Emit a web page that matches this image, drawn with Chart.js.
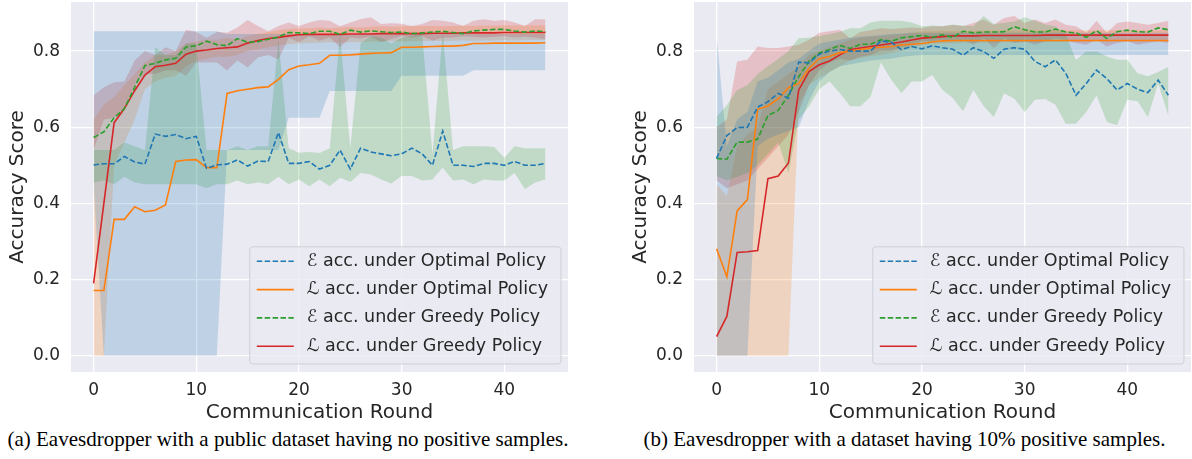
<!DOCTYPE html>
<html>
<head>
<meta charset="utf-8">
<script src="https://cdn.jsdelivr.net/npm/chart.js@4.4.1/dist/chart.umd.min.js"></script>
<style>
body{margin:0;background:#fff;width:1192px;height:459px;position:relative;overflow:hidden}
.panel{position:absolute;top:0}
.cap{position:absolute;top:427px;font:21px "Liberation Serif",serif;color:#000;text-align:center;white-space:nowrap}
</style>
</head>
<body>
<div class="panel" style="left:0"><canvas id="chartA" width="580" height="425"></canvas></div>
<div class="panel" style="left:623px"><canvas id="chartB" width="569" height="425"></canvas></div>
<div class="cap" style="left:0;width:576px">(a) Eavesdropper with a public dataset having no positive samples.</div>
<div class="cap" style="left:623px;width:563px">(b) Eavesdropper with a dataset having 10% positive samples.</div>
<script>
// communication rounds 0..44
var rounds = [];
for (var i = 0; i <= 44; i++) rounds.push(i);

var labels = ["\u2130 acc. under Optimal Policy", "\u2112 acc. under Optimal Policy",
              "\u2130 acc. under Greedy Policy", "\u2112 acc. under Greedy Policy"];
var yTicks = [0, 0.2, 0.4, 0.6, 0.8];
var xTicks = [0, 10, 20, 30, 40];

// ---- (a) no positive samples ----
var aEOpt = [0.501,0.504,0.504,0.523,0.509,0.503,0.582,0.576,0.581,0.570,0.576,0.492,0.501,0.503,0.514,0.498,0.511,0.510,0.586,0.505,
  0.505,0.510,0.490,0.500,0.540,0.490,0.545,0.535,0.530,0.525,0.530,0.545,0.530,0.500,0.590,0.500,0.500,0.497,0.505,0.505,0.500,0.510,0.500,0.500,0.505];
var aLOpt = [0.171,0.171,0.358,0.358,0.391,0.378,0.382,0.396,0.510,0.514,0.515,0.494,0.494,0.689,0.696,0.700,0.704,0.706,0.726,0.751,
  0.761,0.764,0.768,0.789,0.789,0.790,0.792,0.794,0.795,0.796,0.810,0.810,0.811,0.812,0.813,0.813,0.815,0.820,0.820,0.821,0.821,0.821,0.821,0.821,0.822];
var aEGreedy = [0.573,0.588,0.625,0.649,0.705,0.762,0.768,0.777,0.781,0.811,0.814,0.826,0.817,0.814,0.833,0.823,0.825,0.831,0.837,0.849,
  0.848,0.846,0.852,0.852,0.844,0.855,0.850,0.853,0.851,0.849,0.850,0.846,0.848,0.850,0.852,0.849,0.846,0.853,0.855,0.857,0.857,0.853,0.850,0.853,0.851];
var aLGreedy = [0.190,0.400,0.612,0.649,0.696,0.737,0.759,0.763,0.768,0.792,0.800,0.803,0.807,0.809,0.811,0.821,0.828,0.833,0.836,0.840,
  0.843,0.844,0.844,0.844,0.844,0.845,0.845,0.845,0.846,0.846,0.846,0.846,0.846,0.847,0.847,0.847,0.848,0.848,0.848,0.848,0.849,0.849,0.849,0.849,0.849];
// spread bands (lower / upper), coloured as in the original figure
var aBlueLo = [0.45,0,0,0,0,0,0,0,0,0,0,0,0,0.54,0.54,0.54,0.54,0.54,0.54,0.625,
  0.625,0.625,0.625,0.695,0.695,0.695,0.695,0.695,0.695,0.695,0.735,0.735,0.735,0.735,0.735,0.735,0.735,0.75,0.75,0.75,0.75,0.75,0.75,0.75,0.75];
var aBlueHi = [0.852,0.852,0.852,0.852,0.852,0.852,0.852,0.852,0.852,0.852,0.852,0.852,0.852,0.845,0.845,0.845,0.845,0.845,0.845,0.845,
  0.845,0.845,0.845,0.845,0.845,0.845,0.845,0.845,0.845,0.845,0.845,0.845,0.845,0.845,0.845,0.845,0.845,0.845,0.845,0.845,0.845,0.845,0.845,0.845,0.845];
var aGreenLo = [0.455,0.46,0.45,0.47,0.455,0.45,0.45,0.45,0.45,0.45,0.45,0.44,0.45,0.45,0.46,0.45,0.455,0.45,0.47,0.45,
  0.463,0.445,0.463,0.445,0.467,0.456,0.48,0.476,0.463,0.452,0.472,0.472,0.46,0.463,0.494,0.46,0.463,0.45,0.463,0.46,0.46,0.48,0.437,0.455,0.463];
var aGreenHi = [0.54,0.54,0.54,0.56,0.55,0.54,0.81,0.79,0.79,0.82,0.82,0.54,0.54,0.54,0.55,0.54,0.55,0.55,0.83,0.545,
  0.533,0.535,0.532,0.545,0.845,0.545,0.82,0.84,0.835,0.82,0.835,0.84,0.845,0.53,0.85,0.54,0.55,0.55,0.55,0.548,0.52,0.55,0.545,0.545,0.545];
var aRedLo = [0.54,0.62,0.625,0.65,0.71,0.74,0.74,0.75,0.75,0.735,0.77,0.77,0.77,0.749,0.775,0.757,0.783,0.79,0.778,0.835,
  0.823,0.839,0.827,0.836,0.81,0.836,0.833,0.839,0.823,0.832,0.84,0.836,0.84,0.827,0.836,0.836,0.839,0.838,0.836,0.838,0.84,0.836,0.838,0.836,0.832];
var aRedHi = [0.684,0.705,0.718,0.72,0.775,0.80,0.79,0.81,0.80,0.856,0.85,0.835,0.85,0.848,0.862,0.882,0.866,0.852,0.866,0.875,
  0.866,0.875,0.882,0.88,0.865,0.875,0.884,0.889,0.871,0.873,0.872,0.866,0.871,0.882,0.88,0.875,0.866,0.88,0.884,0.88,0.882,0.875,0.866,0.884,0.884];
var aOrangeLo = [0,0,0.50,0.56,0.62,0.70,0.72,0.73,0.735,0.76,0.775,0.78,0.785,0.785,0.79,0.80,0.805,0.81,0.815,0.818,
  0.82,0.822,0.822,0.823,0.822,0.824,0.823,0.825,0.825,0.826,0.825,0.826,0.826,0.827,0.826,0.827,0.828,0.827,0.828,0.828,0.829,0.828,0.829,0.829,0.829];
var aOrangeHi = [0.62,0.66,0.68,0.71,0.74,0.77,0.79,0.79,0.80,0.82,0.825,0.83,0.83,0.835,0.83,0.84,0.845,0.85,0.855,0.858,
  0.86,0.86,0.862,0.86,0.862,0.863,0.862,0.864,0.865,0.864,0.865,0.865,0.866,0.866,0.865,0.866,0.867,0.866,0.867,0.867,0.868,0.867,0.868,0.868,0.868];

// ---- (b) 10% positive samples ----
var bEOpt = [0.518,0.578,0.599,0.600,0.653,0.667,0.689,0.676,0.771,0.769,0.792,0.800,0.804,0.800,0.800,0.800,0.827,0.823,0.804,0.812,
  0.806,0.814,0.809,0.805,0.789,0.809,0.799,0.781,0.805,0.809,0.805,0.773,0.759,0.777,0.742,0.684,0.715,0.750,0.728,0.698,0.715,0.700,0.691,0.724,0.684];
var bLOpt = [0.281,0.207,0.380,0.410,0.647,0.656,0.675,0.704,0.715,0.755,0.780,0.786,0.796,0.800,0.804,0.808,0.810,0.812,0.816,0.818,
  0.820,0.824,0.827,0.828,0.828,0.828,0.828,0.828,0.828,0.828,0.828,0.828,0.828,0.828,0.828,0.828,0.828,0.828,0.828,0.828,0.828,0.828,0.828,0.828,0.828];
var bEGreedy = [0.518,0.516,0.561,0.561,0.569,0.631,0.644,0.684,0.733,0.773,0.795,0.804,0.815,0.807,0.818,0.818,0.830,0.826,0.835,0.838,
  0.841,0.836,0.843,0.836,0.852,0.848,0.850,0.850,0.851,0.864,0.856,0.850,0.850,0.858,0.850,0.848,0.836,0.854,0.833,0.851,0.855,0.851,0.850,0.861,0.856];
var bLGreedy = [0.050,0.103,0.271,0.273,0.276,0.465,0.472,0.506,0.698,0.746,0.764,0.774,0.790,0.804,0.808,0.812,0.816,0.820,0.824,0.829,
  0.834,0.836,0.838,0.840,0.840,0.840,0.841,0.841,0.841,0.841,0.841,0.841,0.842,0.842,0.842,0.842,0.842,0.842,0.842,0.842,0.842,0.842,0.842,0.842,0.842];
var bBlueLo = [0,0,0,0,0.55,0.57,0.58,0.59,0.60,0.67,0.72,0.745,0.76,0.765,0.77,0.775,0.778,0.78,0.785,0.788,
  0.79,0.79,0.79,0.79,0.79,0.79,0.79,0.79,0.79,0.79,0.79,0.79,0.79,0.79,0.79,0.79,0.79,0.79,0.79,0.79,0.79,0.79,0.79,0.79,0.79];
var bBlueHi = [0.84,0.55,0.62,0.64,0.72,0.73,0.75,0.77,0.78,0.80,0.82,0.825,0.83,0.835,0.838,0.84,0.842,0.845,0.846,0.848,
  0.848,0.848,0.848,0.848,0.848,0.848,0.848,0.848,0.848,0.848,0.848,0.848,0.848,0.848,0.848,0.848,0.848,0.848,0.848,0.848,0.848,0.848,0.848,0.848,0.848];
var bGreenLo = [0.472,0.46,0.47,0.48,0.50,0.53,0.56,0.48,0.62,0.655,0.70,0.72,0.69,0.655,0.655,0.68,0.77,0.725,0.69,0.72,
  0.72,0.737,0.698,0.677,0.642,0.698,0.656,0.627,0.689,0.675,0.640,0.672,0.674,0.659,0.609,0.609,0.640,0.684,0.614,0.605,0.672,0.668,0.627,0.715,0.630];
var bGreenHi = [0.627,0.658,0.698,0.71,0.74,0.76,0.78,0.80,0.834,0.835,0.84,0.845,0.85,0.86,0.86,0.875,0.88,0.88,0.88,0.875,
  0.865,0.867,0.865,0.869,0.867,0.865,0.892,0.871,0.874,0.878,0.889,0.88,0.870,0.865,0.843,0.777,0.799,0.799,0.786,0.777,0.777,0.742,0.734,0.745,0.759];
var bRedLo = [0.46,0.44,0.45,0.46,0.49,0.52,0.55,0.58,0.64,0.71,0.75,0.77,0.78,0.775,0.785,0.79,0.80,0.80,0.81,0.815,
  0.826,0.826,0.830,0.826,0.830,0.817,0.834,0.808,0.834,0.821,0.826,0.817,0.826,0.834,0.830,0.821,0.817,0.830,0.812,0.821,0.826,0.817,0.821,0.826,0.821];
var bRedHi = [0.60,0.62,0.773,0.777,0.812,0.808,0.808,0.812,0.817,0.83,0.848,0.852,0.856,0.834,0.85,0.855,0.86,0.858,0.86,0.862,
  0.861,0.865,0.865,0.869,0.865,0.874,0.883,0.869,0.887,0.892,0.874,0.883,0.874,0.883,0.869,0.865,0.848,0.880,0.848,0.874,0.878,0.874,0.869,0.874,0.880];
var bOrangeLo = [0,0,0,0,0,0,0,0,0.66,0.71,0.73,0.745,0.76,0.775,0.782,0.787,0.79,0.795,0.80,0.81,
  0.815,0.82,0.82,0.82,0.822,0.822,0.822,0.822,0.823,0.823,0.823,0.823,0.824,0.824,0.824,0.824,0.824,0.825,0.825,0.825,0.825,0.825,0.825,0.825,0.825];
var bOrangeHi = [0.45,0.42,0.55,0.58,0.60,0.70,0.72,0.74,0.76,0.79,0.80,0.81,0.82,0.83,0.835,0.838,0.84,0.842,0.845,0.848,
  0.852,0.852,0.853,0.853,0.853,0.854,0.854,0.854,0.854,0.854,0.855,0.855,0.855,0.855,0.855,0.855,0.855,0.855,0.855,0.855,0.855,0.855,0.855,0.855,0.855];

var BLUE = '31,119,180', ORANGE = '255,127,14', GREEN = '44,160,44', RED = '214,39,40';
var TXT = '#262626';
Chart.defaults.font.family = '"DejaVu Sans", sans-serif';
Chart.defaults.color = TXT;

function pts(vals) {
  return rounds.map(function (r, i) { return {x: r, y: vals[i]}; });
}
function lineSet(label, vals, rgb, dashed) {
  return {label: label, data: pts(vals), borderColor: 'rgb(' + rgb + ')', borderWidth: 1.6,
    borderDash: dashed ? [5.5, 2.4] : [], pointRadius: 0, fill: false, tension: 0, order: 0, inLegend: true};
}
function bandSets(lo, hi, rgb) {
  return [
    {data: pts(lo), borderWidth: 0, borderColor: 'rgba(0,0,0,0)', pointRadius: 0, fill: false, order: 1},
    {data: pts(hi), borderWidth: 0, borderColor: 'rgba(0,0,0,0)', pointRadius: 0, fill: '-1',
      backgroundColor: 'rgba(' + rgb + ',0.21)', order: 1}
  ];
}

// grey plot background like seaborn darkgrid
var plotBg = {
  id: 'plotBg',
  beforeDraw: function (chart) {
    var a = chart.chartArea, ctx = chart.ctx;
    ctx.save();
    ctx.fillStyle = '#EAEAF2';
    ctx.fillRect(a.left, a.top, a.right - a.left, a.bottom - a.top);
    ctx.restore();
  }
};
// legend box inside the lower right corner
var boxLegend = {
  id: 'boxLegend',
  afterDraw: function (chart) {
    var a = chart.chartArea, ctx = chart.ctx;
    var items = chart.data.datasets.filter(function (d) { return d.inLegend; });
    ctx.save();
    ctx.font = '17.5px "DejaVu Sans"';
    var tw = 0;
    items.forEach(function (d) { tw = Math.max(tw, ctx.measureText(d.label).width); });
    var rowH = 28.3, w = tw + 70, h = items.length * rowH + 4;
    var x = a.right - 7 - w, y = a.bottom - 8 - h;
    ctx.beginPath();
    ctx.roundRect(x, y, w, h, 3);
    ctx.fillStyle = 'rgba(234,234,242,0.8)';
    ctx.fill();
    ctx.strokeStyle = '#cfcfd6';
    ctx.lineWidth = 1;
    ctx.stroke();
    items.forEach(function (d, i) {
      var cy = y + 14.5 + i * rowH;
      ctx.beginPath();
      ctx.setLineDash(d.borderDash);
      ctx.strokeStyle = d.borderColor;
      ctx.lineWidth = 1.6;
      ctx.moveTo(x + 7, cy);
      ctx.lineTo(x + 44, cy);
      ctx.stroke();
      ctx.setLineDash([]);
      ctx.fillStyle = TXT;
      ctx.textBaseline = 'middle';
      ctx.fillText(d.label, x + 57, cy);
    });
    ctx.restore();
  }
};

function makeChart(id, lines, bands, padRight) {
  var sets = [
    lineSet(labels[0], lines[0], BLUE, true),
    lineSet(labels[1], lines[1], ORANGE, false),
    lineSet(labels[2], lines[2], GREEN, true),
    lineSet(labels[3], lines[3], RED, false)
  ];
  sets = sets.concat(bandSets(bands[0][0], bands[0][1], BLUE));
  sets = sets.concat(bandSets(bands[1][0], bands[1][1], GREEN));
  sets = sets.concat(bandSets(bands[2][0], bands[2][1], RED));
  sets = sets.concat(bandSets(bands[3][0], bands[3][1], ORANGE));
  return new Chart(document.getElementById(id), {
    type: 'line',
    data: {datasets: sets},
    options: {
      responsive: false,
      animation: false,
      layout: {padding: {top: 2, right: padRight, left: 0, bottom: 0}},
      plugins: {legend: {display: false}, tooltip: {enabled: false}},
      scales: {
        x: {
          type: 'linear', min: -2.2, max: 46.2,
          afterBuildTicks: function (s) { s.ticks = xTicks.map(function (v) { return {value: v}; }); },
          afterFit: function (s) { s.height = 53; s.paddingLeft = 0; s.paddingRight = 0; },
          grid: {color: '#ffffff', lineWidth: 1.3, drawTicks: false},
          border: {display: false},
          ticks: {font: {size: 17}, padding: 8, color: TXT},
          title: {display: true, text: 'Communication Round', font: {size: 20}, color: TXT, padding: {top: 0, bottom: 0}}
        },
        y: {
          type: 'linear', min: -0.043, max: 0.929,
          afterBuildTicks: function (s) { s.ticks = yTicks.map(function (v) { return {value: v}; }); },
          afterFit: function (s) { s.width = 71; s.paddingTop = 0; s.paddingBottom = 0; },
          grid: {color: '#ffffff', lineWidth: 1.3, drawTicks: false},
          border: {display: false},
          ticks: {font: {size: 17}, padding: 11, color: TXT, callback: function (v) { return v.toFixed(1); }},
          title: {display: true, text: 'Accuracy Score', font: {size: 20}, color: TXT, padding: {top: 6, bottom: 0}}
        }
      }
    },
    plugins: [plotBg, boxLegend]
  });
}

makeChart('chartA', [aEOpt, aLOpt, aEGreedy, aLGreedy],
  [[aBlueLo, aBlueHi], [aGreenLo, aGreenHi], [aRedLo, aRedHi], [aOrangeLo, aOrangeHi]], 12);
makeChart('chartB', [bEOpt, bLOpt, bEGreedy, bLGreedy],
  [[bBlueLo, bBlueHi], [bGreenLo, bGreenHi], [bRedLo, bRedHi], [bOrangeLo, bOrangeHi]], 1);
</script>
</body>
</html>
